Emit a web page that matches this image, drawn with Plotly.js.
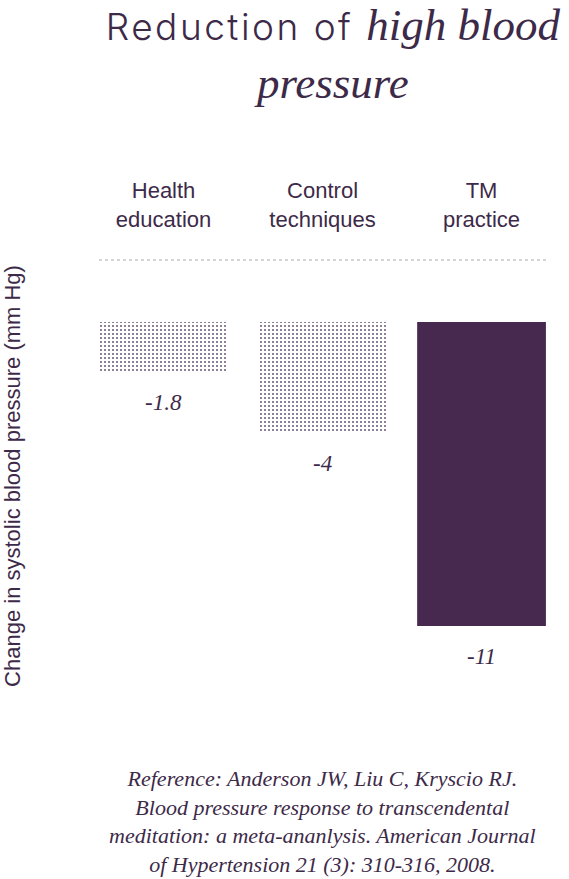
<!DOCTYPE html>
<html>
<head>
<meta charset="utf-8">
<script src="https://cdn.plot.ly/plotly-3.0.1.min.js"></script>
<style>html,body{margin:0;padding:0;background:#fff;}#chart{width:569px;height:879px;}</style>
</head>
<body>
<div id="chart"></div>
<script>
const categories = ['Health<br>education', 'Control<br>techniques', 'TM<br>practice'];
const values = [-1.8, -4, -11];
const valueLabels = ['-1.8', '-4', '-11'];
const dottedIdx = [0, 1];
const solidIdx = [2];
const referenceText = 'Reference: Anderson JW, Liu C, Kryscio RJ.<br>Blood pressure response to transcendental<br>meditation: a meta-ananlysis. American Journal<br>of Hypertension 21 (3): 310-316, 2008.';

const purple = '#3d2a48';
const barPurple = '#47294f';

const dotted = {
  type: 'bar',
  x: dottedIdx.map(i => categories[i]),
  y: dottedIdx.map(i => values[i]),
  width: 0.81,
  marker: {
    color: '#ffffff',
    line: {width: 0},
    pattern: {shape: '.', fgcolor: '#6a5576', bgcolor: '#ffffff', size: 4, solidity: 0.2}
  },
  hoverinfo: 'none'
};
const solid = {
  type: 'bar',
  x: solidIdx.map(i => categories[i]),
  y: solidIdx.map(i => values[i]),
  width: 0.81,
  marker: {color: barPurple, line: {width: 0}},
  hoverinfo: 'none'
};

const annotations = categories.map((c, i) => ({
  x: c, y: values[i], xref: 'x', yref: 'y',
  text: '<i>' + valueLabels[i] + '</i>',
  showarrow: false, yanchor: 'middle', yshift: -31,
  font: {family: 'Liberation Serif', size: 23, color: purple}
}));
annotations.push({
  xref: 'paper', yref: 'paper', x: 0.497, y: -0.299,
  xanchor: 'center', yanchor: 'middle', align: 'center',
  text: '<i>' + referenceText + '</i>', showarrow: false,
  font: {family: 'Liberation Serif', size: 22, color: purple}
});

const layout = {
  width: 569, height: 879,
  margin: {l: 99, r: 21, t: 260, b: 187},
  paper_bgcolor: '#ffffff', plot_bgcolor: '#ffffff',
  showlegend: false,
  barmode: 'overlay',
  title: {
    text: '<span style="font-family:Inter;font-weight:300;font-size:37px;letter-spacing:2.5px">Reduction of </span><i>high blood</i><br><i>pressure</i>',
    x: 0.585, xref: 'container', xanchor: 'center',
    y: 0.955, yref: 'container', yanchor: 'top',
    font: {family: 'Liberation Serif', size: 45, color: purple}
  },
  xaxis: {
    side: 'top', range: [-0.406, 2.418],
    ticks: '', showline: false, showgrid: false, zeroline: false,
    tickfont: {family: 'Liberation Sans', size: 22, color: purple},
    ticklabelstandoff: 28, fixedrange: true
  },
  yaxis: {
    range: [-13.39, 2.24],
    showticklabels: false, ticks: '', showline: false, showgrid: false, zeroline: false,
    title: {text: 'Change in systolic blood pressure (mm Hg)', standoff: 80,
            font: {family: 'Liberation Sans', size: 22, color: purple}},
    fixedrange: true
  },
  shapes: [{
    type: 'line', xref: 'paper', yref: 'paper', x0: 0, x1: 1, y0: 1, y1: 1,
    line: {color: '#aaaaaa', width: 1, dash: 'dot'}
  }],
  annotations: annotations
};

Plotly.newPlot('chart', [dotted, solid], layout, {displayModeBar: false, staticPlot: true});
</script>
</body>
</html>
